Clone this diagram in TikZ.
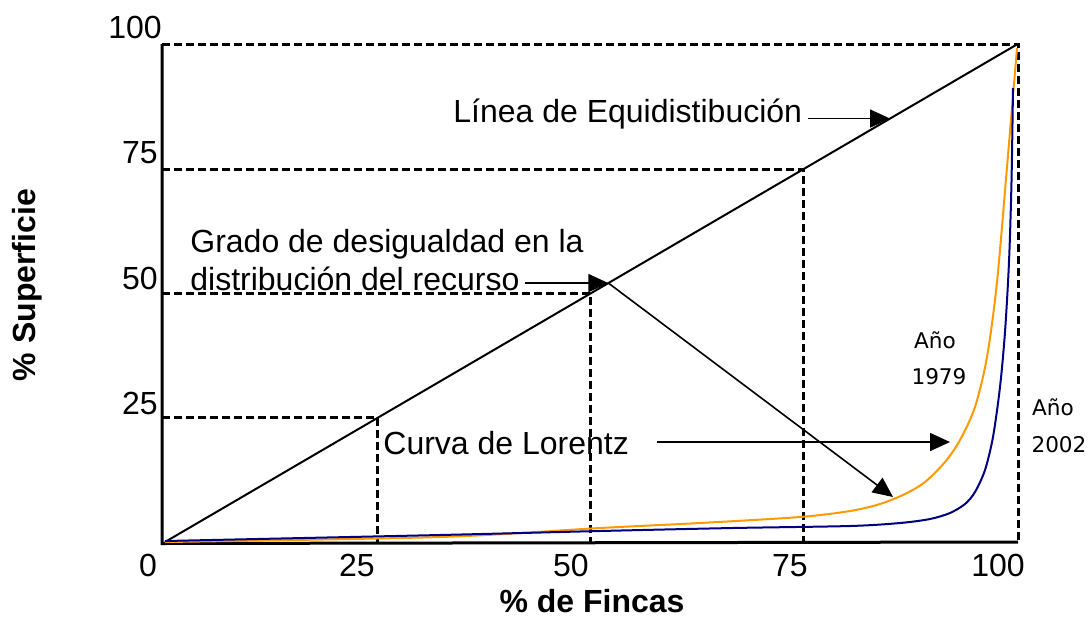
\documentclass[tikz,border=0pt]{standalone}
\usepackage{fontspec}
\setmainfont{Liberation Sans}
\newfontfamily\comicfont{DejaVu Sans}
\usepackage{tikz}
\usetikzlibrary{
    calc,
    arrows.meta
}
\definecolor{curva79}{RGB}{255,153,0}
\definecolor{curva02}{RGB}{0,0,128}
\tikzset{
    ejes/.style={line width=1.5pt},
    guia/.style={line width=1.5pt, dash pattern=on 4pt off 2pt},
    flecha/.style={line width=0.8pt, -{Triangle[length=10pt,width=9pt]}},
    texto/.style={font=\fontsize{16}{19}\selectfont, inner sep=0pt},
    anio/.style={font=\comicfont\fontsize{10.8}{13}\selectfont, inner sep=0pt},
    lorenz/.style={line width=1pt, smooth, tension=0.5},
}

\begin{document}
\begin{tikzpicture}[x=0.5pt,y=-0.5pt]
      \useasboundingbox (0,0) rectangle (1089,617);
      % esquinas del cuadro
      \coordinate (Y) at (162,44);
      \coordinate (X) at (1018,542);
      \coordinate (O) at (165,542);
      \coordinate (T) at (1016,45);
      \coordinate (p25) at ($(O)!0.25!(T)$);
      \coordinate (p50) at ($(O)!0.5!(T)$);
      \coordinate (p75) at ($(O)!0.75!(T)$);
      \coordinate (qL) at ($(O)!0.852!(T)$);
      \coordinate (qG) at ($(O)!0.521!(T)$);
      % guias
      \draw[guia] (Y) -- (Y -| X) -- (X);
      \foreach \p in {p25,p50,p75}
        \draw[guia] (\p -| Y) -- (\p) -- (\p |- X);
      \draw[ejes] (Y) -- ([yshift=-0.75pt]Y |- X) -- (X);
      % linea de equidistribucion
      \draw[line width=1pt] (O) -- (T);
      % curvas (y = 542 - h)
      \draw[lorenz, curva79] plot coordinates {(165,542) (440,537) (600,528) (700,523) (800,517) (850,511) (880,504) (905,494) (925,482) (945,462) (960,440) (975,407) (987,357) (997,282) (1007,167) (1017,48)};
      \draw[lorenz, curva02] plot coordinates {(165,541) (440,535) (600,531) (733,528) (850,526) (900,523) (930,519) (950,513) (965,504) (975,492) (985,470) (993,437) (1000,387) (1005,332) (1009,262) (1011.5,182) (1013,88)};
      \coordinate (tipA) at (893,497);
      \coordinate (tipB) at (950,442);
      % ejes
      \node[texto, anchor=base] (y100) at (135,38) {100};
      \node[texto, anchor=base] (y75) at (140,163) {75};
      \node[texto, anchor=base] (y50) at (140,289) {50};
      \node[texto, anchor=base] (y25) at (140,414) {25};
      \node[texto, anchor=base] (x0) at (148,576) {0};
      \node[texto, anchor=base] (x25) at (357,576) {25};
      \node[texto, anchor=base] (x50) at (571,576) {50};
      \node[texto, anchor=base] (x75) at (790,576) {75};
      \node[texto, anchor=base] (x100) at (998,576) {100};
      \node[texto, anchor=base, font=\fontsize{16}{19}\selectfont\bfseries] (xlab) at (592,612) {\% de Fincas};
      \node[texto, rotate=90, font=\fontsize{16}{19}\selectfont\bfseries] (ylab) at (27,285) {\% Superficie};
      % textos
      \node[texto, anchor=base west] (linea) at (453,122) {Línea de Equidistibución};
      \node[texto, anchor=base west] (grado) at (190,252) {Grado de desigualdad en la};
      \node[texto, anchor=base west, inner xsep=2.5pt] (distrib) at (185,290) {distribución del recurso};
      \node[texto, anchor=base west] (curva) at (383,454) {Curva de Lorentz};
      \node[anio] (a79) at (935,340) {Año};
      \node[anio] (n79) at (939,377) {1979};
      \node[anio] (a02) at (1053,407) {Año};
      \node[anio] (n02) at (1059,445) {2002};
      % flechas
      \draw[flecha] ([xshift=2.5pt]linea.east |- qL) -- (qL);
      \draw[flecha] (distrib.east |- qG) -- (qG);
      \draw[flecha] (qG) -- (tipA);
      \draw[flecha] ([xshift=14pt]curva.east |- tipB) -- (tipB);
\end{tikzpicture}
\end{document}
